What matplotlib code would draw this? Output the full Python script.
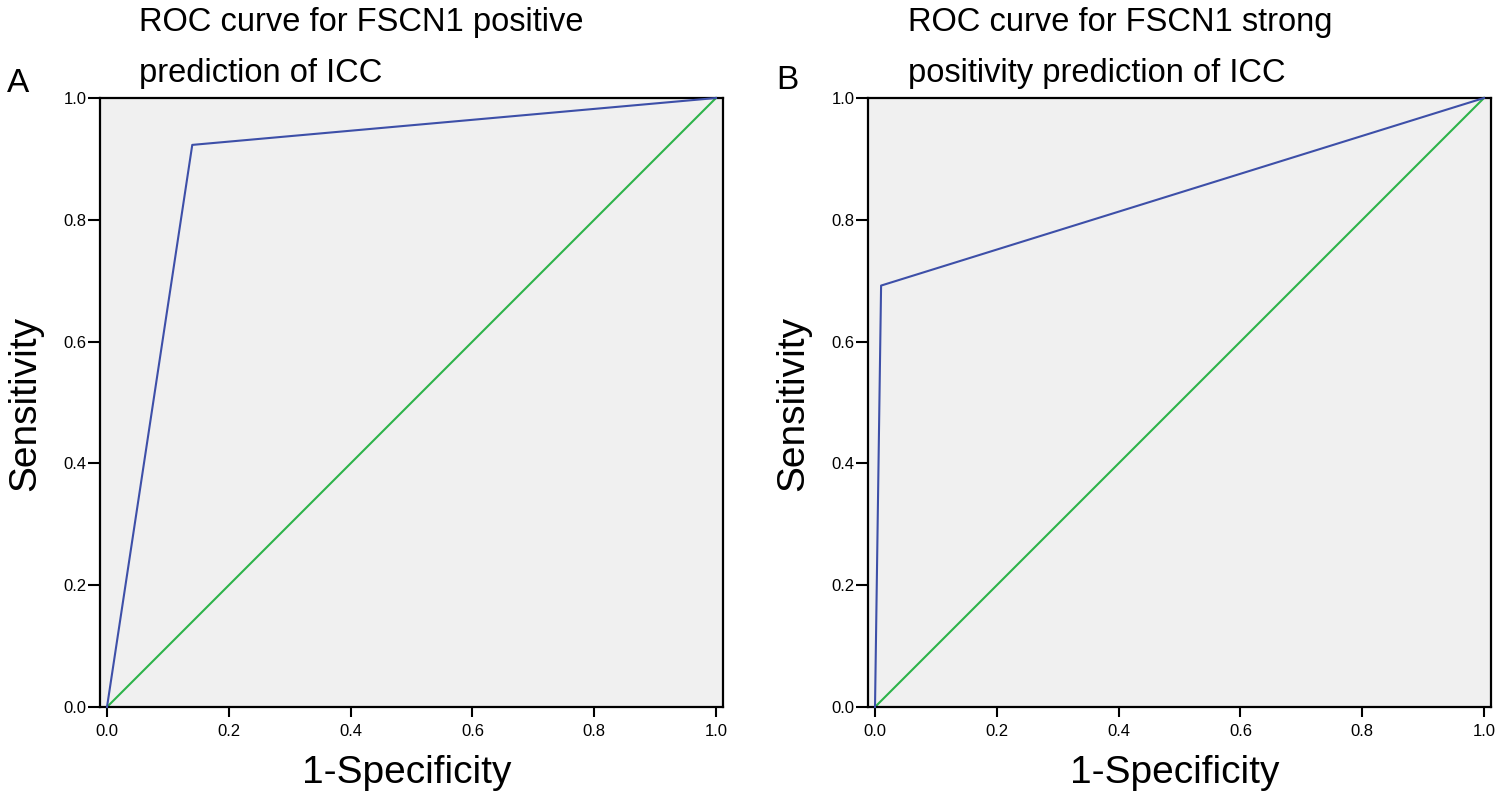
import matplotlib
matplotlib.use("Agg")
import matplotlib.pyplot as plt

plt.rcParams['font.family'] = ['Liberation Sans', 'DejaVu Sans']

# Data
fpr_a = [0.0, 0.14, 1.0]
tpr_a = [0.0, 0.923, 1.0]
fpr_b = [0.0, 0.01, 1.0]
tpr_b = [0.0, 0.692, 1.0]
ref_line = [0.0, 1.0]
ticks = [0.0, 0.2, 0.4, 0.6, 0.8, 1.0]
tick_labels = ["0.0", "0.2", "0.4", "0.6", "0.8", "1.0"]
titles_a = ["ROC curve for FSCN1 positive", "prediction of ICC"]
titles_b = ["ROC curve for FSCN1 strong", "positivity prediction of ICC"]
panel_letters = ["A", "B"]

W, H = 1498, 800
fig = plt.figure(figsize=(W / 100, H / 100), dpi=100)

def px_axes(x0, y0, x1, y1):
    return fig.add_axes([x0 / W, 1 - y1 / H, (x1 - x0) / W, (y1 - y0) / H])

blue = '#3D4FA8'
green = '#2DB34A'

panels = [
    (100, 723, fpr_a, tpr_a, titles_a, 139, 7, 92),
    (868, 1491, fpr_b, tpr_b, titles_b, 908, 776, 89),
]

for i, (x0, x1, fx, ty, tl, tx, lx, ly) in enumerate(panels):
    ax = px_axes(x0, 98, x1, 707)
    ax.set_facecolor('#F0F0F0')
    ax.plot(ref_line, ref_line, color=green, lw=1.5, zorder=2, clip_on=False)
    ax.plot(fx, ty, color=blue, lw=1.5, zorder=3, clip_on=False)
    ax.set_xlim(-0.0115, 1.0115)
    ax.set_ylim(0, 1)
    ax.set_xticks(ticks)
    ax.set_xticklabels(tick_labels)
    ax.set_yticks(ticks)
    ax.set_yticklabels(tick_labels)
    ax.tick_params(axis='x', length=7, width=1.5, pad=5, labelsize=12, direction='out')
    ax.tick_params(axis='y', length=8.5, width=1.5, pad=1, labelsize=12, direction='out')
    for s in ax.spines.values():
        s.set_linewidth(1.6)
        s.set_color('black')
    # titles
    fig.text(tx / W, 1 - 31 / H, tl[0], fontsize=23.5, ha='left', va='baseline')
    fig.text(tx / W, 1 - 82 / H, tl[1], fontsize=23.5, ha='left', va='baseline')
    # panel letter
    fig.text(lx / W, 1 - ly / H, panel_letters[i], fontsize=24, ha='left', va='baseline')
    # axis labels
    cx = (x0 + x1) / 2 - 5
    fig.text(cx / W, 1 - 783 / H, "1-Specificity", fontsize=28, ha='center', va='baseline')
    fig.text((x0 - 65) / W, 1 - 403 / H, "Sensitivity", fontsize=28, rotation=90,
             rotation_mode='anchor', ha='center', va='baseline')

fig.savefig("out.png", dpi=100)
